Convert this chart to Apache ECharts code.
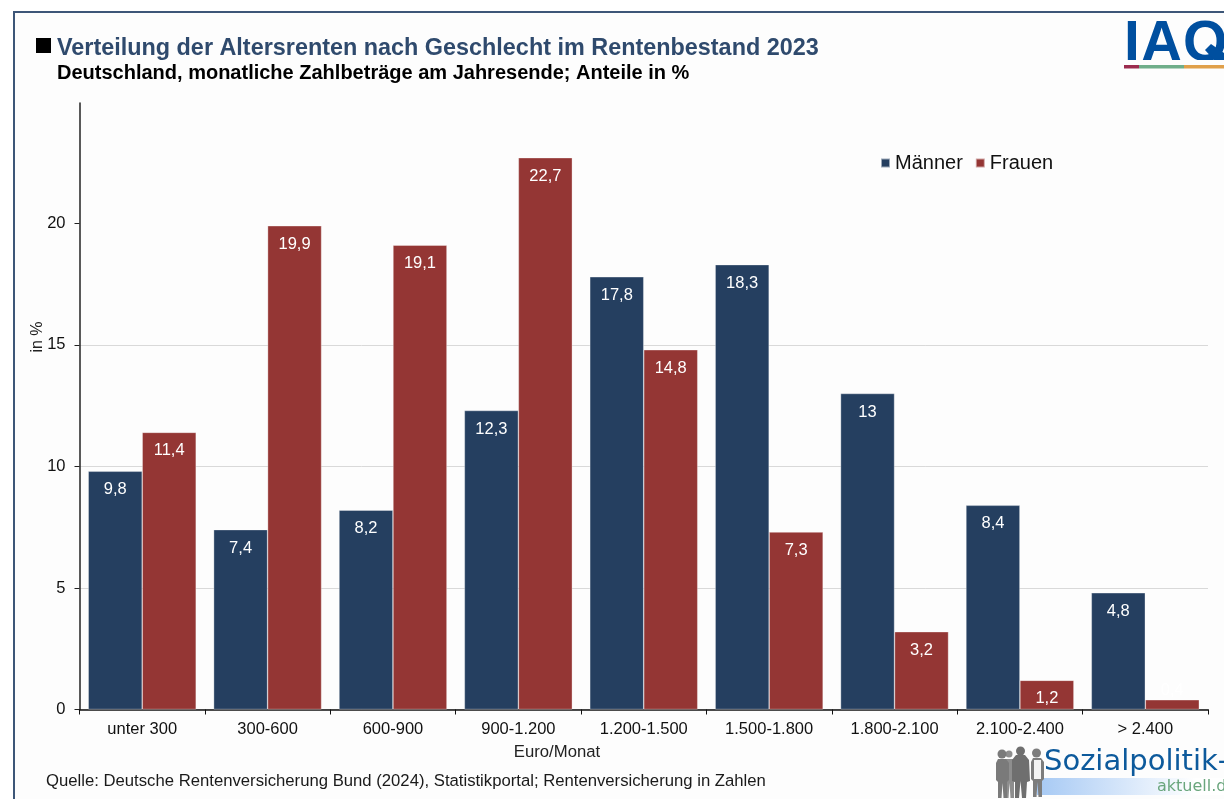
<!DOCTYPE html>
<html lang="de">
<head>
<meta charset="utf-8">
<title>Verteilung der Altersrenten nach Geschlecht</title>
<style>
  html, body { margin: 0; padding: 0; background: #fff; }
  #chart { width: 1224px; height: 799px; }
</style>
<script src="https://cdn.jsdelivr.net/npm/echarts@6/dist/echarts.min.js"></script>
</head>
<body>
<div id="chart"></div>
<script>
// Rentenbestand 2023, Anteile in %
const categories = ['unter 300', '300-600', '600-900', '900-1.200', '1.200-1.500',
                    '1.500-1.800', '1.800-2.100', '2.100-2.400', '> 2.400'];
const maenner = [9.8, 7.4, 8.2, 12.3, 17.8, 18.3, 13, 8.4, 4.8];
const frauen  = [11.4, 19.9, 19.1, 22.7, 14.8, 7.3, 3.2, 1.2, 0.4];
const yTicks  = [0, 5, 10, 15, 20];

const FONT = '"Liberation Sans", Arial, sans-serif';
const NAVY = '#253f60';
const RED  = '#943634';
const PANEL = '#fdfdfd';

const comma = v => String(v).replace('.', ',');

// Bars too short for an inside label carry it above the bar.
const barData = values => values.map(v => v < 1
  ? { value: v, label: { position: 'top', distance: 1 } }
  : v);

const barSeries = (name, values, color) => ({
  name,
  type: 'bar',
  data: barData(values),
  barGap: 0,
  barCategoryGap: '13.9%',
  itemStyle: { color, borderColor: 'rgba(255,255,255,0.55)', borderWidth: 0.6 },
  label: {
    show: true,
    position: 'insideTop',
    distance: 10,
    color: '#fff',
    fontFamily: FONT,
    fontSize: 16.5,
    formatter: p => comma(p.value)
  }
});

// Simple standing figure: head plus body outline, placed by its top-left corner.
const figure = (x, y, head, points, fill) => ([
  { type: 'circle', z: 5, shape: { cx: x + head[0], cy: y + head[1], r: head[2] }, style: { fill } },
  { type: 'polygon', z: 5, shape: { points: points.map(p => [x + p[0], y + p[1]]) }, style: { fill } }
]);

const slimBody = [[2, 10], [10, 10], [13, 14], [13, 31], [11, 33], [11, 49], [7.5, 49], [6.5, 34], [5.5, 49], [2, 49], [2, 33], [0, 31], [0, 14]];
const tallBody = [[4, 8], [13, 8], [17, 13], [18, 34], [15, 35], [14, 51], [10, 51], [8.5, 34], [7, 51], [3, 51], [3, 35], [0, 34], [0, 13]];

const axisTitle = (text, x, y, rotation, fontSize) => ({
  type: 'text',
  x, y, rotation,
  style: { text, fill: '#222', fontFamily: FONT, fontSize, align: 'center', verticalAlign: 'middle' }
});

const iaqLetter = (text, x) => ({
  type: 'text',
  style: { x, y: 17, text, fill: '#004f9f', fontFamily: FONT, fontWeight: 'bold', fontSize: 57 }
});

const pageGraphics = [
  // Page panel and its frame
  { type: 'rect', z: -2, shape: { x: 14, y: 12, width: 1210, height: 787 }, style: { fill: PANEL } },
  { type: 'rect', z: -1, shape: { x: 13, y: 11, width: 1211, height: 2 }, style: { fill: '#3d5678' } },
  { type: 'rect', z: -1, shape: { x: 13, y: 11, width: 2, height: 788 }, style: { fill: '#3d5678' } },
  // Title bullet
  { type: 'rect', shape: { x: 36, y: 38, width: 15, height: 15 }, style: { fill: '#000' } },
  // Axis titles
  axisTitle('in %', 38, 337, Math.PI / 2, 16),
  axisTitle('Euro/Monat', 557, 752, 0, 16.7),
  // IAQ mark with coloured rule; the band below the letters trims the Q at the baseline
  iaqLetter('I', 1124),
  iaqLetter('A', 1141),
  iaqLetter('Q', 1183),
  { type: 'rect', shape: { x: 1120, y: 60, width: 104, height: 20 }, style: { fill: PANEL } },
  { type: 'polygon', shape: { points: [[1205, 50], [1211, 44], [1224, 53], [1224, 60], [1214, 60]] }, style: { fill: '#004f9f' } },
  { type: 'rect', shape: { x: 1124, y: 65, width: 15, height: 3.5 }, style: { fill: '#9b2c4e' } },
  { type: 'rect', shape: { x: 1139, y: 65, width: 45, height: 3.5 }, style: { fill: '#6fae8a' } },
  { type: 'rect', shape: { x: 1184, y: 65, width: 40, height: 3.5 }, style: { fill: '#e0a04a' } },
  // Sozialpolitik-aktuell mark
  { type: 'rect', shape: { x: 1037, y: 778, width: 187, height: 17 }, style: {
      fill: new echarts.graphic.LinearGradient(0, 0, 1, 0, [
        { offset: 0, color: '#a6c9f4' }, { offset: 0.85, color: '#ffffff' }
      ]) } },
  { type: 'text', style: { x: 1044, y: 748, text: 'Sozialpolitik-', fill: '#0d5a9c', fontFamily: '"DejaVu Sans"', fontSize: 29 } },
  { type: 'text', style: { x: 1157, y: 779, text: 'aktuell.de', fill: '#6aa67d', fontFamily: '"DejaVu Sans"', fontSize: 16 } },
  ...figure(1003, 749, [6, 5, 3.5], slimBody, '#8e8e8e'),
  ...figure(996, 749, [6, 5, 4.5], slimBody, '#7a7a7a'),
  ...figure(1012, 747, [8.5, 4, 4.5], tallBody, '#6f6f6f'),
  ...figure(1031, 748, [5.5, 5, 4.5], slimBody, '#7d7d7d'),
  { type: 'rect', z: 6, shape: { x: 1034, y: 760, width: 7, height: 19 }, style: { fill: '#f4f4f4' } }
];

const chart = echarts.init(document.getElementById('chart'), null, { renderer: 'canvas' });
chart.setOption({
  animation: false,
  backgroundColor: '#ffffff',
  textStyle: { fontFamily: FONT },
  title: [
    { text: 'Verteilung der Altersrenten nach Geschlecht im Rentenbestand 2023',
      left: 52, top: 32,
      textStyle: { color: '#2f4a6d', fontFamily: FONT, fontWeight: 'bold', fontSize: 23.4 } },
    { text: 'Deutschland, monatliche Zahlbeträge am Jahresende; Anteile in %',
      left: 52, top: 58,
      textStyle: { color: '#000', fontFamily: FONT, fontWeight: 'bold', fontSize: 20 } },
    { text: 'Quelle: Deutsche Rentenversicherung Bund (2024), Statistikportal; Rentenversicherung in Zahlen',
      left: 41, top: 768,
      textStyle: { color: '#1a1a1a', fontFamily: FONT, fontWeight: 'normal', fontSize: 16.7 } }
  ],
  legend: {
    left: 875, top: 148,
    icon: 'rect',
    itemWidth: 9, itemHeight: 9, itemGap: 12,
    textStyle: { color: '#111', fontFamily: FONT, fontSize: 20 },
    data: ['Männer', 'Frauen']
  },
  grid: { left: 79.5, top: 103, width: 1128.5, height: 606.5, containLabel: false },
  xAxis: {
    type: 'category',
    data: categories,
    axisLine: { lineStyle: { color: '#111', width: 1.5 } },
    axisTick: { show: true, length: 5, alignWithLabel: false, lineStyle: { color: '#111' } },
    axisLabel: { color: '#111', fontFamily: FONT, fontSize: 16.5, margin: 11, interval: 0 }
  },
  yAxis: {
    type: 'value',
    min: 0, max: 24.95, interval: 5,
    axisLine: { show: true, lineStyle: { color: '#222', width: 1.5 } },
    axisTick: { show: true, length: 5, customValues: yTicks, lineStyle: { color: '#222' } },
    axisLabel: { color: '#111', fontFamily: FONT, fontSize: 16.5, margin: 14, customValues: yTicks },
    splitLine: { show: true, showMaxLine: false, lineStyle: { color: '#d9d9d9', width: 1 } }
  },
  series: [barSeries('Männer', maenner, NAVY), barSeries('Frauen', frauen, RED)],
  graphic: pageGraphics
});
</script>
</body>
</html>
